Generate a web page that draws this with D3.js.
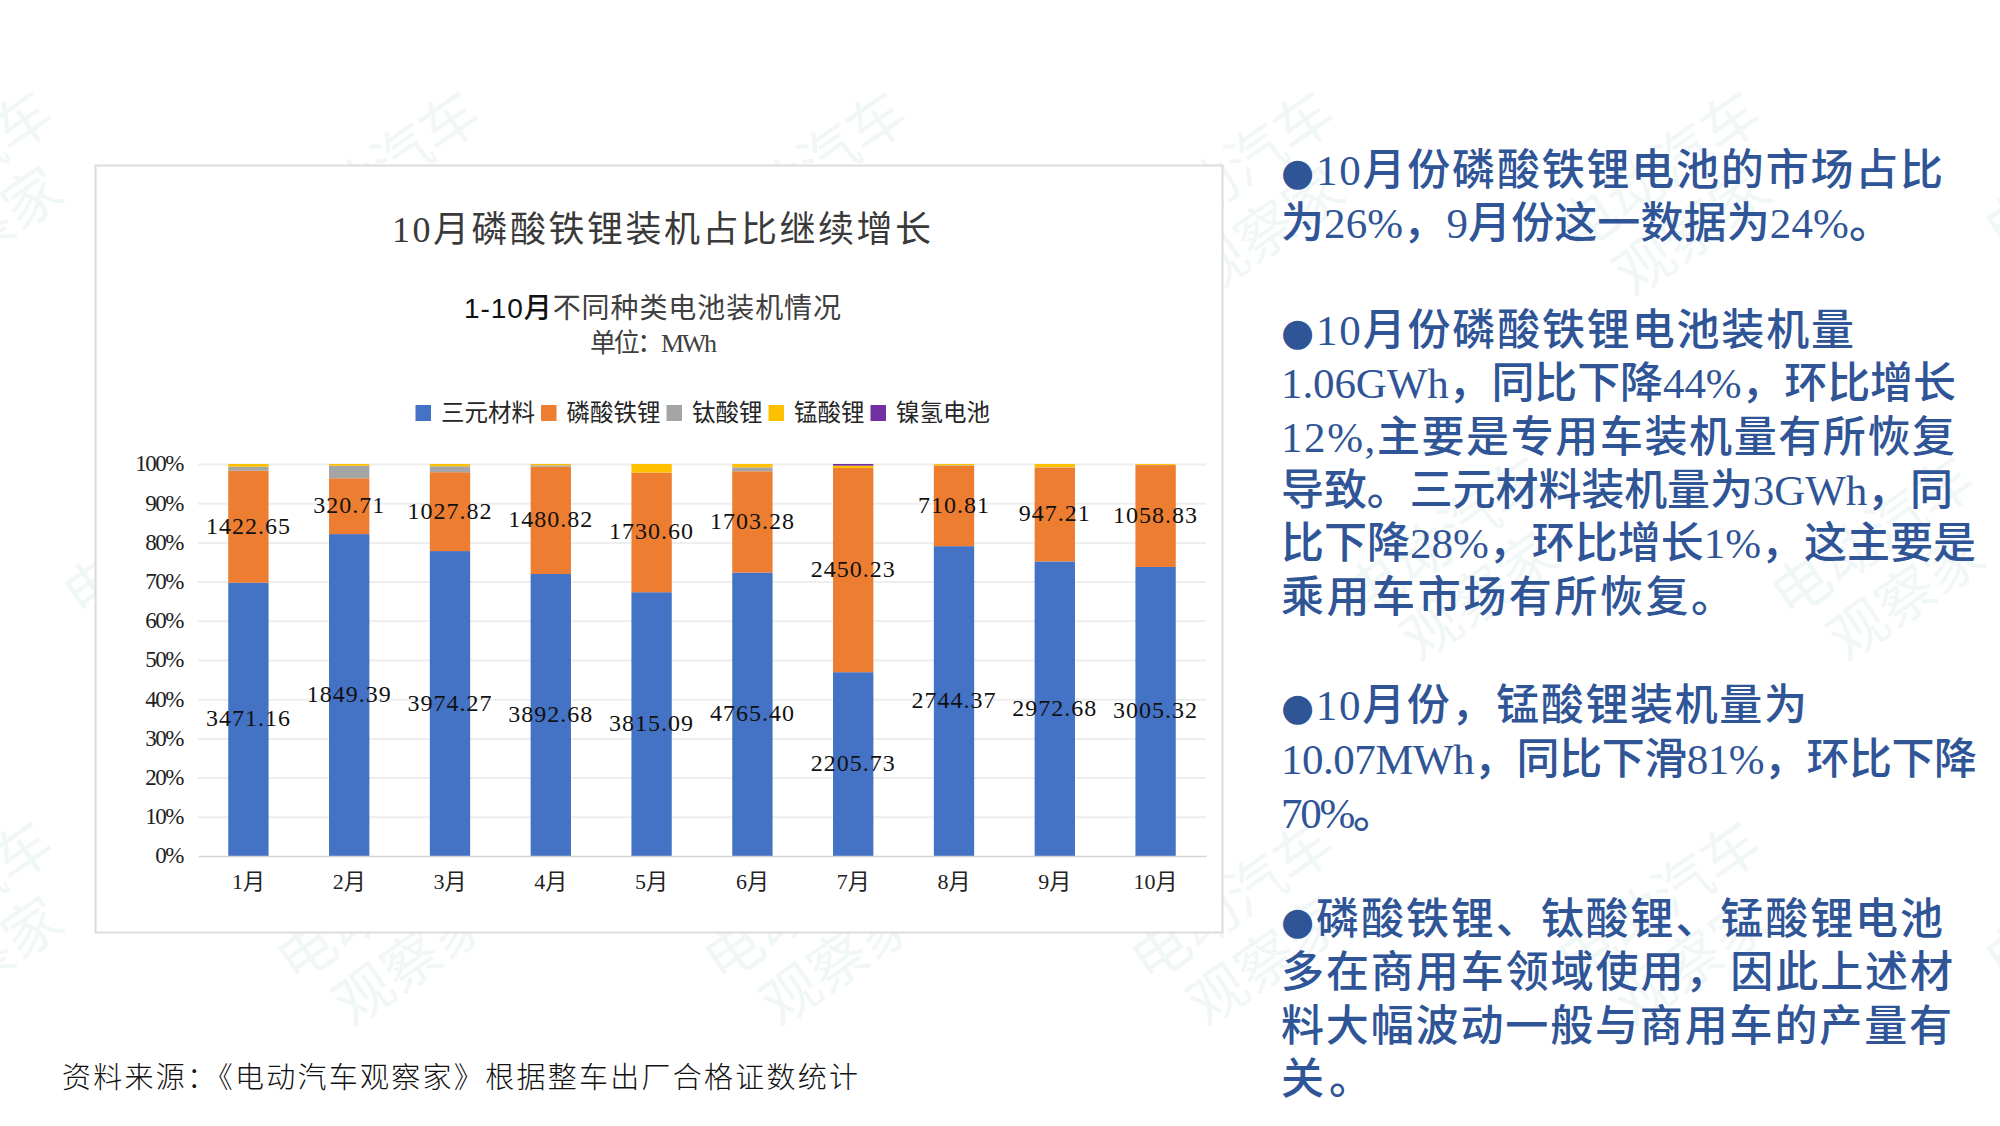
<!DOCTYPE html>
<html><head><meta charset="utf-8">
<script src="https://cdn.jsdelivr.net/npm/d3@7"></script>
<style>
html,body{margin:0;padding:0;background:#fff}
svg{display:block}
text{font-family:"Liberation Serif","Noto Sans CJK SC",serif}
</style></head><body>
<svg id="c" width="2000" height="1126"></svg>
<script>
// ---------- data ----------
const months = ["1月","2月","3月","4月","5月","6月","7月","8月","9月","10月"];
const seriesNames = ["三元材料","磷酸铁锂","钛酸锂","锰酸锂","镍氢电池"];
const seriesColors = ["#4472C4","#ED7D31","#A5A5A5","#FFC000","#7030A0"];
const ternary = [3471.16,1849.39,3974.27,3892.68,3815.09,4765.40,2205.73,2744.37,2972.68,3005.32];
const lfp     = [1422.65,320.71,1027.82,1480.82,1730.60,1703.28,2450.23,710.81,947.21,1058.83];
const lto     = [50,72,77,20,0,66,0,5,3,2];
const lmo     = [35,10,30,18,124,56,28,12,33,10.07];
const nimh    = [0,0,0,0,0,0,20,0,0,0];
const yTicks  = [0,.1,.2,.3,.4,.5,.6,.7,.8,.9,1];

const chartTitle = "10月磷酸铁锂装机占比继续增长";
const subBold = "1-10月", subRest = "不同种类电池装机情况", unit = "单位：MWh";
const source = "资料来源：《电动汽车观察家》根据整车出厂合格证数统计";
const noteLines = [
 "●10月份磷酸铁锂电池的市场占比","为26%，9月份这一数据为24%。",
 "●10月份磷酸铁锂电池装机量","1.06GWh，同比下降44%，环比增长",
 "12%,主要是专用车装机量有所恢复","导致。三元材料装机量为3GWh，同",
 "比下降28%，环比增长1%，这主要是","乘用车市场有所恢复。",
 "●10月份，锰酸锂装机量为","10.07MWh，同比下滑81%，环比下降","70%。",
 "●磷酸铁锂、钛酸锂、锰酸锂电池","多在商用车领域使用，因此上述材","料大幅波动一般与商用车的产量有","关。"];
const noteEnds = [1943,1892,1854,1956,1955,1953,1976,1734,1807,1977,1396,1943,1953,1952,1372];
const noteMid  = [168,221.5,328,381.5,435,488.5,541.7,595,703,757,811,917,970.5,1024,1077];

// ---------- drawing ----------
const svg = d3.select("#c");
svg.append("rect").attr("width",2000).attr("height",1126).attr("fill","#fff");

// watermark
const wm = svg.append("g").attr("fill","#f1f7f7").attr("font-weight",400);
const wmCol = 427, wmRow = 365;
d3.range(0,3).forEach(r=>{
  d3.range(-1,6).forEach(k=>{
    const x = 295 + wmCol*(k + (r===1?0.5:0)), y = 255 + wmRow*r;
    const g = wm.append("g").attr("transform",`translate(${x},${y}) rotate(-35)`);
    g.append("text").attr("font-size",58).attr("font-family","Noto Sans CJK SC").text("电动汽车");
    g.append("text").attr("x",22).attr("y",68).attr("font-size",58).attr("font-family","Noto Sans CJK SC").text("观察家");
  });
});

// panel
svg.append("rect").attr("x",95.5).attr("y",165.5).attr("width",1127).attr("height",767)
  .attr("fill","#fff").attr("stroke","#dcdcdc").attr("stroke-width",2);

const plot = {l:198,r:1206,t:464,b:856};
const x = d3.scaleBand().domain(months).range([plot.l,plot.r]).paddingInner(0.6).paddingOuter(0.3);
const y = d3.scaleLinear().domain([0,1]).range([plot.b,plot.t]);

// grid
const grid = svg.append("g").attr("transform",`translate(${plot.l},0)`)
  .call(d3.axisLeft(y).tickValues(yTicks.slice(1)).tickSize(-(plot.r-plot.l)).tickFormat(""));
grid.select(".domain").remove();
grid.selectAll("line").attr("stroke","#eeeeee").attr("stroke-width",2);

// stack
const rows = months.map((m,i)=>{
  const o={month:m};
  [ternary,lfp,lto,lmo,nimh].forEach((s,j)=>o[seriesNames[j]]=s[i]);
  return o;
});
const stacked = d3.stack().keys(seriesNames).offset(d3.stackOffsetExpand)(rows);
svg.append("g").selectAll("g").data(stacked).join("g")
  .attr("fill",(d,i)=>seriesColors[i])
  .selectAll("rect").data(d=>d).join("rect")
  .attr("x",d=>x(d.data.month)).attr("width",x.bandwidth())
  .attr("y",d=>y(d[1])).attr("height",d=>y(d[0])-y(d[1]));

// x baseline and axes
const xAxis = svg.append("g").attr("transform",`translate(0,${plot.b})`)
  .call(d3.axisBottom(x).tickSize(0).tickPadding(17));
xAxis.select(".domain").attr("stroke","#d4d4d4").attr("stroke-width",1.5);
xAxis.selectAll("text").attr("font-size",22).attr("fill","#222")
  .style("font-family",'"Liberation Serif","Noto Sans CJK SC"');
const yAxis = svg.append("g").attr("transform",`translate(183,0)`)
  .call(d3.axisLeft(y).tickValues(yTicks).tickSize(0).tickPadding(0).tickFormat(d3.format(".0%")));
yAxis.select(".domain").remove();
yAxis.selectAll("text").attr("font-size",23).attr("letter-spacing",-1.5).attr("fill","#222").attr("dy","0.3em")
  .style("font-family",'"Liberation Serif"');

// data labels (first two series, centred in their segment)
svg.append("g").selectAll("g").data(stacked.slice(0,2)).join("g")
  .selectAll("text").data(d=>d).join("text")
  .attr("x",d=>x(d.data.month)+x.bandwidth()/2)
  .attr("y",d=>(y(d[0])+y(d[1]))/2+7)
  .attr("text-anchor","middle").attr("font-size",24).attr("letter-spacing",1).attr("fill","#111")
  .text((d,i,n)=>{const s=d3.select(n[i].parentNode).datum().key;return d.data[s].toFixed(2);});

// titles
svg.append("text").attr("x",392).attr("y",242).attr("font-size",36).attr("fill","#3a3a3a")
  .attr("textLength",539).attr("lengthAdjust","spacing").text(chartTitle);
const st = svg.append("text").attr("x",464).attr("y",318).attr("font-size",28).attr("fill","#404040")
  .attr("textLength",377).attr("lengthAdjust","spacing");
st.append("tspan").attr("fill","#111").attr("font-weight",500)
  .style("font-family",'"Liberation Sans","Noto Sans CJK SC"').text(subBold);
st.append("tspan").text(subRest);
svg.append("text").attr("x",590).attr("y",352).attr("font-size",26).attr("fill","#404040")
  .attr("textLength",127).attr("lengthAdjust","spacing").text(unit);

// legend
const charW = 23.5;
let cx = 415.5;
const leg = svg.append("g");
seriesNames.forEach((n,i)=>{
  leg.append("rect").attr("x",cx).attr("y",405).attr("width",15.5).attr("height",16).attr("fill",seriesColors[i]);
  const w = n.length*charW;
  leg.append("text").attr("x",cx+25.5).attr("y",421).attr("font-size",23.5).attr("fill","#262626")
    .attr("textLength",w).attr("lengthAdjust","spacing").text(n);
  cx += 25.5+w+6;
});

// source
svg.append("text").attr("x",62).attr("y",1088).attr("font-size",29).attr("fill","#111").attr("font-weight",300)
  .attr("textLength",796).attr("lengthAdjust","spacing").text(source);

// notes
const notes = svg.append("g").selectAll("text").data(noteLines).join("text")
  .attr("x",1281).attr("y",(d,i)=>noteMid[i]+16.5)
  .attr("font-size",43).attr("font-weight",500).attr("fill","#2F5597")
  .attr("textLength",(d,i)=>noteEnds[i]-1281).attr("lengthAdjust","spacing");
notes.each(function(d){
  const t = d3.select(this);
  if (d[0]==="●") {
    t.append("tspan").style("font-family","DejaVu Sans").attr("font-size",38).text("●");
    t.append("tspan").text(d.slice(1));
  } else t.text(d);
});
</script>
</body></html>
